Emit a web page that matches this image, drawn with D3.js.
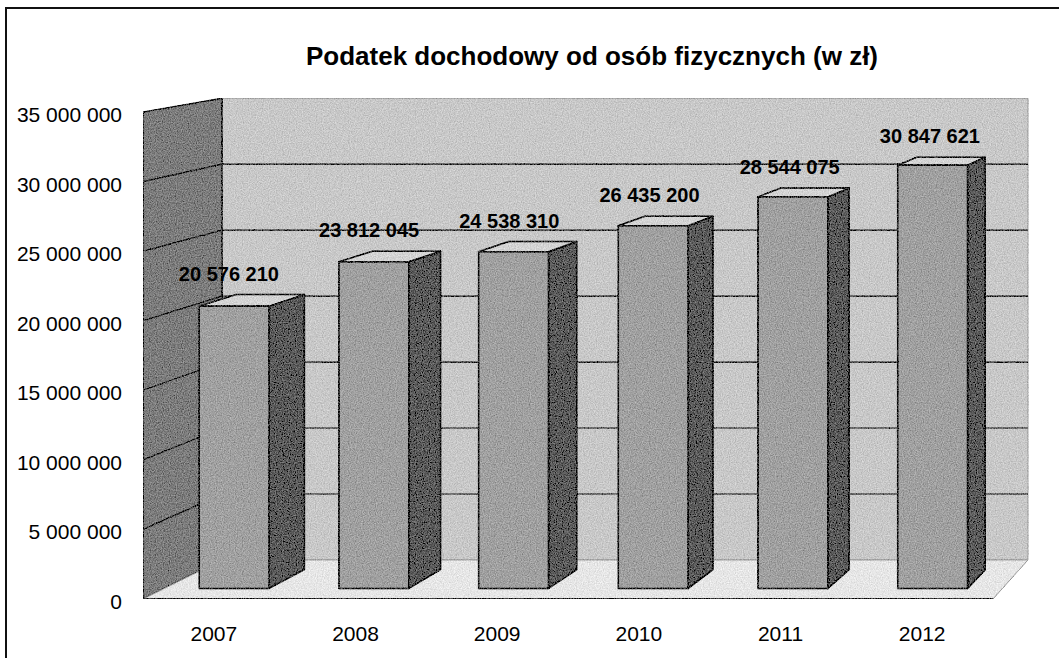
<!DOCTYPE html>
<html>
<head>
<meta charset="utf-8">
<script src="https://cdn.jsdelivr.net/npm/d3@7"></script>
<style>
	body { margin: 0; background: #fff; }
	text { font-family: "Liberation Sans", Arial, sans-serif; fill: #000; }
</style>
</head>
<body>
<script>
// chart data
var years = ["2007", "2008", "2009", "2010", "2011", "2012"];
var values = [20576210, 23812045, 24538310, 26435200, 28544075, 30847621];
var yTicks = [0, 5000000, 10000000, 15000000, 20000000, 25000000, 30000000, 35000000];
var title = "Podatek dochodowy od osób fizycznych (w zł)";

(function() {

	var width = 1059;
	var height = 658;

	var svg = d3.select("body")
		.append("svg")
		.attr("width", width)
		.attr("height", height);

	// grainy texture, a bit like the dithered scan
	var filter = svg.append("defs").append("filter")
		.attr("id", "grain")
		.attr("x", 0).attr("y", 0).attr("width", 1).attr("height", 1);
	filter.append("feTurbulence")
		.attr("type", "fractalNoise")
		.attr("baseFrequency", 0.85)
		.attr("numOctaves", 2)
		.attr("seed", 3)
		.attr("result", "noise");
	filter.append("feColorMatrix")
		.attr("in", "noise")
		.attr("type", "matrix")
		.attr("values", "1 0 0 0 0  1 0 0 0 0  1 0 0 0 0  0 0 0 0 1")
		.attr("result", "grey");
	filter.append("feComposite")
		.attr("in", "SourceGraphic")
		.attr("in2", "grey")
		.attr("operator", "arithmetic")
		.attr("k1", 0).attr("k2", 1).attr("k3", 0.45).attr("k4", -0.225)
		.attr("result", "mixed");
	filter.append("feComposite")
		.attr("in", "mixed")
		.attr("in2", "SourceGraphic")
		.attr("operator", "in");

	// front plane of the 3d box
	var left = 143, right = 993, bottom = 599, top = 112;

	// perspective: everything shrinks towards this point as depth grows
	var vx = 1669, vy = -155, k = 0.0518;
	function proj(xf, yf, z) {
		var s = 1 - k * z;
		return [vx + s * (xf - vx), vy + s * (yf - vy)];
	}
	function poly(pts) {
		return "M" + pts.map(function(p) { return p[0] + "," + p[1]; }).join("L") + "Z";
	}

	var x = d3.scaleBand()
		.domain(years)
		.range([left, right])
		.paddingInner(0.5)
		.paddingOuter(0.25);

	var y = d3.scaleLinear()
		.domain([0, 35000000])
		.range([bottom, top]);

	var fmt = function(v) { return d3.format(",")(v).replace(/,/g, " "); };

	// outer frame (only top and left edge are visible)
	svg.append("path")
		.attr("d", "M6," + height + "V8H" + width)
		.attr("fill", "none")
		.attr("stroke", "#111")
		.attr("stroke-width", 2);

	// title
	svg.append("text")
		.attr("x", 592)
		.attr("y", 65)
		.attr("text-anchor", "middle")
		.style("font-size", "26px")
		.style("font-weight", "bold")
		.text(title);

	var plot = svg.append("g").attr("filter", "url(#grain)");

	// back wall
	plot.append("path")
		.attr("d", poly([proj(left, bottom, 1), proj(left, top, 1), proj(right, top, 1), proj(right, bottom, 1)]))
		.attr("fill", "#c8c8c8")
		.attr("stroke", "#9a9a9a")
		.attr("stroke-width", 1);

	// side wall on the left
	plot.append("path")
		.attr("d", poly([proj(left, bottom, 0), proj(left, top, 0), proj(left, top, 1), proj(left, bottom, 1)]))
		.attr("fill", "#7c7c7c")
		.attr("stroke", "#222")
		.attr("stroke-width", 1.5);

	// floor
	plot.append("path")
		.attr("d", poly([proj(left, bottom, 0), proj(right, bottom, 0), proj(right, bottom, 1), proj(left, bottom, 1)]))
		.attr("fill", "#e6e6e6")
		.attr("stroke", "#9a9a9a")
		.attr("stroke-width", 1);

	plot.append("line")
		.attr("x1", left).attr("y1", bottom)
		.attr("x2", right).attr("y2", bottom)
		.attr("stroke", "#333")
		.attr("stroke-width", 2);

	// gridlines on the left wall and back wall
	var grid = yTicks.filter(function(d) { return d > 0 && d < 35000000; });
	grid.forEach(function(v) {
		var a = proj(left, y(v), 0), b = proj(left, y(v), 1), c = proj(right, y(v), 1);
		plot.append("path")
			.attr("d", "M" + a + "L" + b + "L" + c)
			.attr("fill", "none")
			.attr("stroke", "#111")
			.attr("stroke-width", 1.2);
	});

	// y axis labels
	svg.selectAll(".ylab")
		.data(yTicks)
		.enter().append("text")
		.attr("class", "ylab")
		.attr("x", 122)
		.attr("y", function(d) { return y(d) + 10; })
		.attr("text-anchor", "end")
		.style("font-size", "21px")
		.text(fmt);

	// x axis labels
	svg.selectAll(".xlab")
		.data(years)
		.enter().append("text")
		.attr("class", "xlab")
		.attr("x", function(d) { return x(d) + x.bandwidth() / 2; })
		.attr("y", 641)
		.attr("text-anchor", "middle")
		.style("font-size", "21px")
		.text(function(d) { return d; });

	// 3d columns
	var z0 = 0.27, z1 = 0.75;
	var bars = plot.selectAll(".bar")
		.data(years.map(function(d, i) { return {year: d, value: values[i]}; }))
		.enter().append("g")
		.attr("class", "bar");

	// right side face
	bars.append("path")
		.attr("d", function(d) {
			var xr = x(d.year) + x.bandwidth();
			return poly([proj(xr, y(0), z0), proj(xr, y(d.value), z0), proj(xr, y(d.value), z1), proj(xr, y(0), z1)]);
		})
		.attr("fill", "#5a5a5a")
		.attr("stroke", "#000")
		.attr("stroke-width", 1.5)
		.attr("stroke-linejoin", "round");

	// top face
	bars.append("path")
		.attr("d", function(d) {
			var xl = x(d.year), xr = xl + x.bandwidth(), yt = y(d.value);
			return poly([proj(xl, yt, z0), proj(xr, yt, z0), proj(xr, yt, z1), proj(xl, yt, z1)]);
		})
		.attr("fill", "#d4d4d4")
		.attr("stroke", "#000")
		.attr("stroke-width", 1.5)
		.attr("stroke-linejoin", "round");

	// front face
	bars.append("path")
		.attr("d", function(d) {
			var xl = x(d.year), xr = xl + x.bandwidth();
			return poly([proj(xl, y(0), z0), proj(xl, y(d.value), z0), proj(xr, y(d.value), z0), proj(xr, y(0), z0)]);
		})
		.attr("fill", "#a0a0a0")
		.attr("stroke", "#000")
		.attr("stroke-width", 1.5)
		.attr("stroke-linejoin", "round");

	// value labels above the columns
	svg.selectAll(".vlab")
		.data(values)
		.enter().append("text")
		.attr("class", "vlab")
		.attr("x", function(d, i) { return proj(x(years[i]) + x.bandwidth() / 2, y(d), 0.2)[0]; })
		.attr("y", function(d) { return proj(0, y(d), z1)[1] - 14; })
		.attr("text-anchor", "middle")
		.style("font-size", "20px")
		.style("font-weight", "bold")
		.text(fmt);

})();
</script>
</body>
</html>
